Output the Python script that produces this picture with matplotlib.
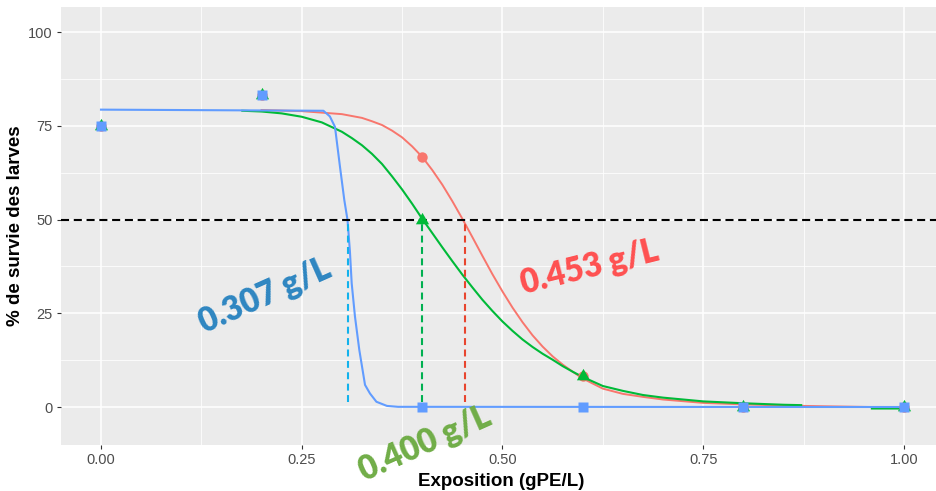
import numpy as np
import matplotlib
matplotlib.use("Agg")
import matplotlib.pyplot as plt

# ---- data ----
dose = [0.0, 0.2, 0.4, 0.6, 0.8, 1.0]
obs_red = [75.0, 83.3, 66.7, 8.3, 0.0, 0.0]
obs_green = [75.0, 83.3, 50.0, 8.3, 0.0, 0.0]
obs_blue = [75.0, 83.3, 0.0, 0.0, 0.0, 0.0]

# fitted curves, read point by point
fit_red_x = [0.20, 0.25, 0.30, 0.325, 0.3375, 0.35, 0.3625, 0.375, 0.3875, 0.40,
             0.4125, 0.425, 0.4375, 0.45, 0.4625, 0.475, 0.4875, 0.50, 0.5125,
             0.525, 0.5375, 0.55, 0.5625, 0.575, 0.5875, 0.60, 0.625, 0.65,
             0.675, 0.70, 0.75, 0.80, 0.85, 0.90, 0.96]
fit_red_y = [79.2, 78.9, 78.1, 77.1, 76.2, 75.2, 73.7, 71.9, 69.5, 66.7,
             63.2, 59.3, 54.9, 50.2, 45.3, 40.3, 35.4, 30.8, 26.5,
             22.6, 19.1, 16.1, 13.5, 11.3, 9.4, 7.6, 4.9, 3.5,
             2.7, 2.0, 1.1, 0.7, 0.4, 0.2, 0.0]

fit_green_x = [0.176, 0.20, 0.225, 0.25, 0.275, 0.30, 0.3125, 0.325, 0.3375, 0.35,
               0.3625, 0.375, 0.3875, 0.40, 0.4125, 0.425, 0.4375, 0.45, 0.4625,
               0.475, 0.4875, 0.50, 0.5125, 0.525, 0.5375, 0.55, 0.5625, 0.575,
               0.5875, 0.60, 0.625, 0.65, 0.675, 0.70, 0.75, 0.80, 0.85, 0.872,
               np.nan, 0.96, 1.0]
fit_green_y = [79.0, 78.8, 78.3, 77.4, 75.9, 73.4, 71.7, 69.8, 67.5, 64.8,
               61.5, 58.0, 54.2, 50.2, 46.4, 42.6, 38.9, 35.3, 31.9,
               28.6, 25.6, 22.8, 20.3, 18.0, 16.0, 14.2, 12.6, 10.9,
               9.4, 8.0, 5.6, 4.3, 3.2, 2.5, 1.5, 1.0, 0.6, 0.5,
               np.nan, -0.4, -0.4]

fit_blue_x = [0.0, 0.277, 0.285, 0.2914, 0.2976, 0.303, 0.307, 0.310, 0.3122, 0.3163,
              0.3217, 0.3288, 0.335, 0.343, 0.356, 0.37, 1.0]
fit_blue_y = [79.3, 79.0, 77.5, 74.7, 64.1, 55.2, 49.9, 41.5, 33.0, 24.1,
              15.2, 5.9, 3.6, 1.4, 0.3, 0.05, 0.0]

ec50 = [0.307, 0.400, 0.453]
ec50_labels = ["0.307 g/L", "0.400 g/L", "0.453 g/L"]
xticks = [0.0, 0.25, 0.50, 0.75, 1.00]
xticklabels = ["0.00", "0.25", "0.50", "0.75", "1.00"]
yticks = [0, 25, 50, 75, 100]

# ---- style ----
plt.rcParams['font.family'] = ['Liberation Sans', 'DejaVu Sans']
plt.rcParams['lines.scale_dashes'] = False

c_red, c_green, c_blue = "#F8766D", "#00BA38", "#619CFF"
tri = [(0, 1), (-0.866, -0.5), (0.866, -0.5)]

fig = plt.figure(figsize=(9.37, 4.91), dpi=100)
ax = fig.add_axes([61/937, 46/491, 876/937, 438/491])
ax.set_facecolor("#EBEBEB")
for s in ax.spines.values():
    s.set_visible(False)

ax.set_xlim(-0.0498, 1.0411)
ax.set_ylim(-10.13, 106.67)

ax.set_xticks(xticks)
ax.set_xticklabels(xticklabels)
ax.set_yticks(yticks)
ax.set_xticks([0.125, 0.375, 0.625, 0.875], minor=True)
ax.set_yticks([12.5, 37.5, 62.5, 87.5], minor=True)
ax.grid(which='major', color='white', lw=1.1)
ax.grid(which='minor', color='white', lw=0.55)
ax.set_axisbelow(True)
ax.tick_params(which='major', length=3, width=0.8, color='#333333',
               labelcolor='#4D4D4D', labelsize=10.5, pad=3)
ax.tick_params(which='minor', length=0)

# curves
ax.plot(fit_red_x, fit_red_y, color=c_red, lw=1.4, zorder=2)
ax.plot(fit_green_x, fit_green_y, color=c_green, lw=1.5, zorder=2.1)
ax.plot(fit_blue_x, fit_blue_y, color=c_blue, lw=1.5, zorder=2.2)

# reference lines
ax.axhline(50, color='black', lw=1.5, dashes=(5.8, 3.4), zorder=3)
vcols = ["#12B2EC", "#00B050", "#E8452E"]
for xv, cv in zip(ec50, vcols):
    ax.plot([xv, xv], [1.4, 50], color=cv, lw=1.5, dashes=(5.0, 3.2), zorder=3)

# observed points
ax.plot(dose, obs_red, 'o', color=c_red, ms=7.5, zorder=4, mec='none')
ax.plot(dose, obs_green, marker=tri, ls='none', color=c_green, ms=11.0, zorder=4.1, mec='none')
ax.plot(dose, obs_blue, 's', color=c_blue, ms=7.2, zorder=4.2, mec='none')

# axis titles
ax.set_xlabel("Exposition (gPE/L)", fontsize=13.5, fontweight='bold', color='black')
ax.set_ylabel("% de survie des larves", fontsize=13.5, fontweight='bold', color='black')
ax.xaxis.set_label_coords(0.5023, (445-481)/438)
ax.xaxis.label.set_va('center')
ax.yaxis.set_label_coords((15.5-61)/876, 0.5)
ax.yaxis.label.set_va('center')

# annotations
ann_font = ['Lato', 'DejaVu Sans']
ax.text(0.204, 29.6, ec50_labels[0], color="#2E86C1", fontsize=23.5, fontweight='heavy',
        family=ann_font, rotation=24, ha='center', va='center',
        rotation_mode='anchor', zorder=5, clip_on=False)
ax.text(0.4035, -9.9, ec50_labels[1], color="#70AD47", fontsize=23.5, fontweight='heavy',
        family=ann_font, rotation=24, ha='center', va='center',
        rotation_mode='anchor', zorder=5, clip_on=False)
ax.text(0.609, 37.1, ec50_labels[2], color="#FF5050", fontsize=23.5, fontweight='heavy',
        family=ann_font, rotation=14, ha='center', va='center',
        rotation_mode='anchor', zorder=5, clip_on=False)

fig.savefig("out.png", dpi=100, facecolor='white')
